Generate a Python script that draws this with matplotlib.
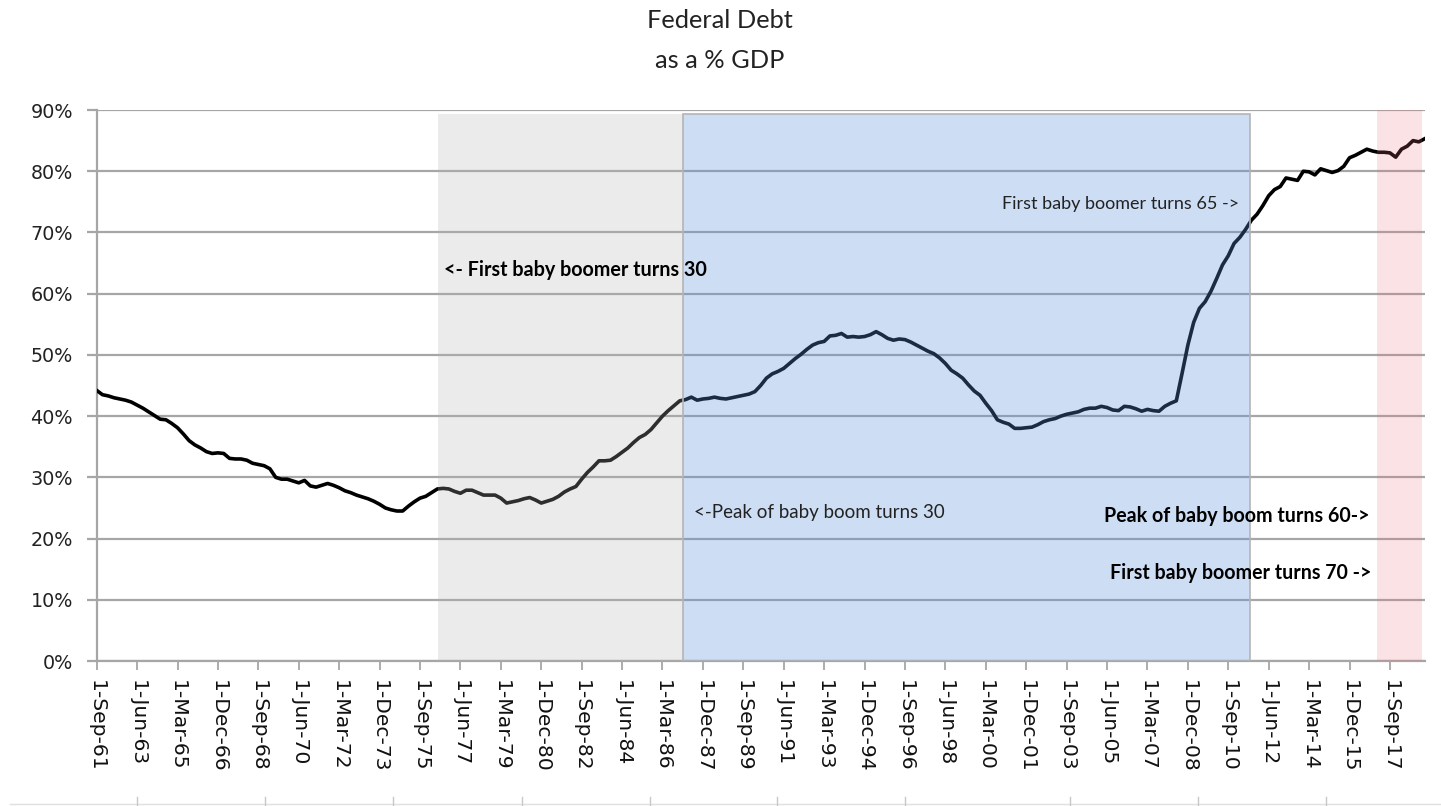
import numpy as np
import matplotlib
matplotlib.use('Agg')
import matplotlib.pyplot as plt
from matplotlib.patches import Rectangle
from matplotlib.lines import Line2D

# federal debt as % of GDP, quarterly from Sep-61
debt_pct = [
    44.2, 43.5, 43.3, 43.0, 42.8, 42.6, 42.3, 41.8, 41.3, 40.7,
    40.1, 39.5, 39.4, 38.8, 38.1, 37.1, 36.0, 35.3, 34.8, 34.2,
    33.9, 34.0, 33.9, 33.1, 33.0, 33.0, 32.8, 32.3, 32.1, 31.9,
    31.4, 30.0, 29.7, 29.7, 29.4, 29.1, 29.5, 28.6, 28.4, 28.7,
    29.0, 28.7, 28.3, 27.8, 27.5, 27.1, 26.8, 26.5, 26.1, 25.6,
    25.0, 24.7, 24.5, 24.5, 25.3, 26.0, 26.6, 26.9, 27.5, 28.1,
    28.2, 28.1, 27.7, 27.4, 27.9, 27.9, 27.5, 27.1, 27.1, 27.1,
    26.6, 25.8, 26.0, 26.2, 26.5, 26.7, 26.3, 25.8, 26.1, 26.4,
    26.9, 27.6, 28.1, 28.5, 29.7, 30.8, 31.7, 32.7, 32.7, 32.8,
    33.4, 34.1, 34.8, 35.7, 36.5, 37.0, 37.8, 38.9, 40.0, 40.9,
    41.7, 42.5, 42.7, 43.1, 42.6, 42.8, 42.9, 43.1, 42.9, 42.8,
    43.0, 43.2, 43.4, 43.6, 44.0, 45.0, 46.2, 46.9, 47.3, 47.8,
    48.6, 49.4, 50.1, 50.9, 51.6, 52.0, 52.2, 53.1, 53.2, 53.5,
    52.9, 53.0, 52.9, 53.0, 53.3, 53.8, 53.3, 52.7, 52.4, 52.6,
    52.5, 52.1, 51.6, 51.1, 50.6, 50.2, 49.5, 48.6, 47.5, 46.9,
    46.2, 45.1, 44.1, 43.4, 42.1, 40.9, 39.4, 39.0, 38.7, 38.0,
    38.0, 38.1, 38.2, 38.6, 39.1, 39.4, 39.6, 40.0, 40.3, 40.5,
    40.7, 41.1, 41.3, 41.3, 41.6, 41.4, 41.0, 40.9, 41.6, 41.5,
    41.2, 40.8, 41.1, 40.9, 40.8, 41.6, 42.1, 42.5, 47.0, 51.6,
    55.3, 57.6, 58.7, 60.4, 62.5, 64.7, 66.2, 68.2, 69.2, 70.5,
    72.0, 73.0, 74.4, 76.0, 77.0, 77.5, 78.9, 78.7, 78.5, 80.0,
    79.9, 79.4, 80.4, 80.1, 79.8, 80.1, 80.8, 82.2, 82.6, 83.1,
    83.6, 83.3, 83.1, 83.1, 83.0, 82.3, 83.6, 84.1, 85.0, 84.8,
    85.3,
]

# every 7th quarter is labelled
tick_labels = [
    '1-Sep-61', '1-Jun-63', '1-Mar-65', '1-Dec-66', '1-Sep-68', '1-Jun-70',
    '1-Mar-72', '1-Dec-73', '1-Sep-75', '1-Jun-77', '1-Mar-79', '1-Dec-80',
    '1-Sep-82', '1-Jun-84', '1-Mar-86', '1-Dec-87', '1-Sep-89', '1-Jun-91',
    '1-Mar-93', '1-Dec-94', '1-Sep-96', '1-Jun-98', '1-Mar-00', '1-Dec-01',
    '1-Sep-03', '1-Jun-05', '1-Mar-07', '1-Dec-08', '1-Sep-10', '1-Jun-12',
    '1-Mar-14', '1-Dec-15', '1-Sep-17',
]

# baby boomer periods (quarter index start, end, top %)
gray_period = (59.2, 101.6, 89.4)
blue_period = (101.6, 199.7, 89.4)
pink_period = (221.8, 229.6, 90.0)

x = np.arange(len(debt_pct))

fig = plt.figure(figsize=(14.41, 8.06), dpi=100)
ax = fig.add_axes([0.0671, 0.1799, 0.9215, 0.6836])

grid_col = '#a6a6a6'
ax.plot(x, debt_pct, color='black', lw=2.6, zorder=3, solid_joinstyle='round')

# shaded periods sit on top of the line and grid
ax.axvspan(gray_period[0], gray_period[1], ymax=gray_period[2] / 90,
           color=(0.70, 0.70, 0.70), alpha=0.26, lw=0, zorder=4)
ax.axvspan(blue_period[0], blue_period[1], ymax=blue_period[2] / 90,
           color=(0.36, 0.57, 0.86), alpha=0.30, lw=0, zorder=4)
ax.axvspan(pink_period[0], pink_period[1], ymax=pink_period[2] / 90,
           color=(0.92, 0.43, 0.47), alpha=0.20, lw=0, zorder=4)
ax.add_patch(Rectangle((blue_period[0], 0), blue_period[1] - blue_period[0], blue_period[2],
                       fill=False, edgecolor='#b4b4b4', lw=1.2, zorder=5))

ax.set_xlim(0, len(debt_pct) - 1)
ax.set_ylim(0, 90)
ax.set_yticks(range(0, 91, 10))
ax.set_yticklabels([f'{v}%' for v in range(0, 91, 10)])
ax.set_xticks(x[::7])
ax.set_xticklabels(tick_labels, rotation=-90)

ax.grid(axis='y', color=grid_col, lw=1.6, zorder=0)
ax.set_axisbelow(True)
for s in ['top', 'right']:
    ax.spines[s].set_visible(False)
ax.spines['left'].set_color(grid_col)
ax.spines['left'].set_linewidth(1.6)
ax.spines['bottom'].set_color(grid_col)
ax.spines['bottom'].set_linewidth(1.6)
ax.tick_params(axis='y', length=7.2, width=1.6, color=grid_col, pad=10, labelsize=13.8,
               labelcolor='#222222')
ax.tick_params(axis='x', length=6.5, width=1.3, color=grid_col, pad=7, labelsize=14.6,
               labelcolor='#111111')

font = 'Lato'
ax.text(60.2, 63.9, '<- First baby boomer turns 30', fontsize=14.2, fontweight='bold',
        family=font, va='center', ha='left', zorder=6)
ax.text(156.8, 74.7, 'First baby boomer turns 65 ->', fontsize=13, family=font,
        color='#222222', va='center', ha='left', zorder=6)
ax.text(103.4, 24.2, '<-Peak of baby boom turns 30', fontsize=13.5, family=font,
        color='#222222', va='center', ha='left', zorder=6)
ax.text(174.5, 23.7, 'Peak of baby boom turns 60->', fontsize=14.1, fontweight='bold',
        family=font, va='center', ha='left', zorder=6)
ax.text(175.5, 14.4, 'First baby boomer turns 70 ->', fontsize=14.1, fontweight='bold',
        family=font, va='center', ha='left', zorder=6)

fig.text(0.4997, 1 - 21 / 806, 'Federal Debt', ha='center', va='center', fontsize=18.3,
         family=font, color='#222222')
fig.text(0.4997, 1 - 60 / 806, 'as a % GDP', ha='center', va='center', fontsize=18.3,
         family=font, color='#222222')

# separator ticks along the bottom edge
W, H = 1441, 806
fig.add_artist(Line2D([10 / W, 1], [2 / H, 2 / H], color='#e0e0e0', lw=1))
for px in [137, 265, 393, 522, 650, 777, 905, 1070, 1198, 1326]:
    fig.add_artist(Line2D([px / W, px / W], [0, 9 / H], color='#c8c8c8', lw=1))

fig.savefig('out.png', dpi=100)
